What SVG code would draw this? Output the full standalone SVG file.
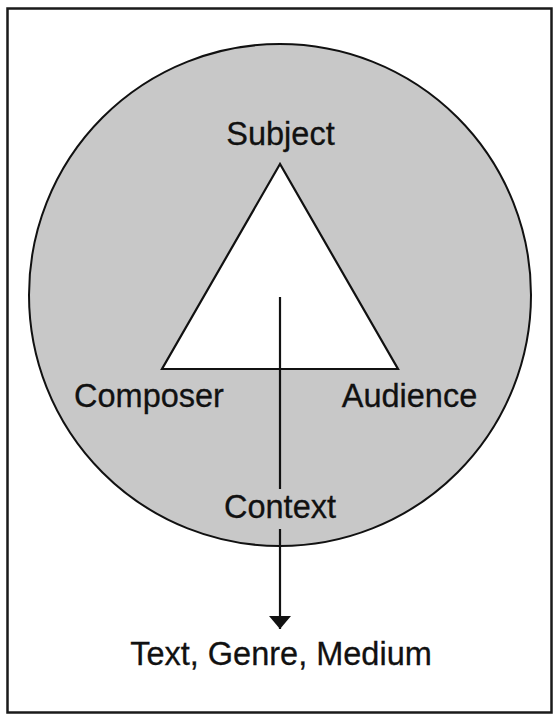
<svg xmlns="http://www.w3.org/2000/svg" width="559" height="720" viewBox="0 0 559 720">
  <defs>
    <style>
      .lbl { font-family: "Liberation Sans", Arial, sans-serif; font-size: 32.5px; fill: #111; text-anchor: middle; stroke: #111; stroke-width: 0.3; }
      .edge { stroke: #111; stroke-width: 2.2; fill: none; }
    </style>
    <marker id="arrow" markerWidth="14" markerHeight="22" refX="13" refY="11" orient="auto" markerUnits="userSpaceOnUse" viewBox="0 0 14 22">
      <path d="M0,0 L13,11 L0,22 Z" fill="#111"/>
    </marker>
  </defs>
  <rect width="559" height="720" fill="#ffffff"/>
  <rect id="frame" x="7.5" y="8.5" width="544" height="704" fill="none" stroke="#1a1a1a" stroke-width="2.5"/>
  <g id="context-circle">
    <circle cx="280" cy="295" r="251" fill="#c8c8c8" stroke="#111" stroke-width="2"/>
  </g>
  <g id="triangle">
    <polygon points="280,164 162,369 398,369" fill="#ffffff" stroke="#111" stroke-width="2.2" stroke-linejoin="miter"/>
  </g>
  <g id="connectors">
    <line class="edge" x1="280" y1="297" x2="280" y2="489"/>
    <line class="edge" x1="280" y1="529" x2="280" y2="629" marker-end="url(#arrow)"/>
  </g>
  <g id="node-subject"><text class="lbl" x="280.5" y="145">Subject</text></g>
  <g id="node-composer"><text class="lbl" x="149" y="407">Composer</text></g>
  <g id="node-audience"><text class="lbl" x="409.5" y="407">Audience</text></g>
  <g id="node-context"><text class="lbl" x="280" y="518">Context</text></g>
  <g id="node-output"><text class="lbl" x="281" y="665">Text, Genre, Medium</text></g>
</svg>
